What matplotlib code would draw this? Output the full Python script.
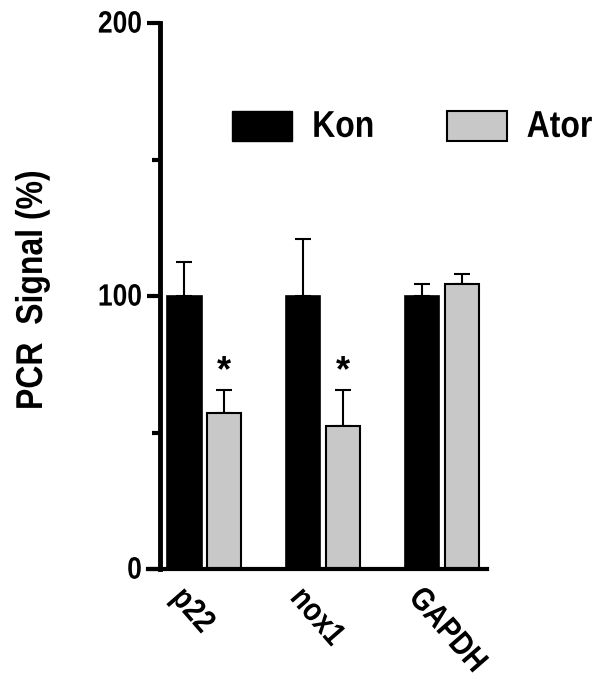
import matplotlib
matplotlib.use("Agg")
import matplotlib.pyplot as plt
import numpy as np
from matplotlib.patches import Patch
from matplotlib.transforms import ScaledTranslation, Affine2D
from matplotlib.patheffects import AbstractPathEffect

categories = ["p22", "nox1", "GAPDH"]
kon_vals = [100, 100, 100]
kon_err = [12.5, 21, 4.5]
ator_vals = [57, 52.5, 104.5]
ator_err = [8.5, 13, 3.5]
ator_sig = ["*", "*", ""]
series_names = ["Kon", "Ator"]
yticks = [0, 100, 200]

fam = "Liberation Sans"


class Stretch(AbstractPathEffect):
    """Draw glyphs taller (condensed look), scaling in the text's own frame."""
    def __init__(self, sy=1.17):
        super().__init__()
        self.sy = sy

    def draw_path(self, renderer, gc, tpath, affine, rgbFace=None):
        renderer.draw_path(gc, tpath, Affine2D().scale(1, self.sy) + affine, rgbFace)


st = [Stretch(1.17)]

fig = plt.figure(figsize=(6.01, 7.00), dpi=100)
ax = fig.add_axes([0.266, 0.187, 0.544, 0.780])

x = np.arange(len(categories))
w = 0.29
off = 0.168
ax.bar(x - off, kon_vals, w, color="black", edgecolor="black", linewidth=1.2, zorder=2)
ax.bar(x + off, ator_vals, w, color="#c8c8c8", edgecolor="black", linewidth=1.5, zorder=2)
ax.errorbar(x - off, kon_vals, yerr=[np.zeros(3), kon_err], fmt="none", ecolor="black",
            elinewidth=1.5, capsize=5.8, capthick=1.5, zorder=1)
ax.errorbar(x + off, ator_vals, yerr=[np.zeros(3), ator_err], fmt="none", ecolor="black",
            elinewidth=1.5, capsize=5.8, capthick=1.5, zorder=1)
for xi, v, e, s in zip(x, ator_vals, ator_err, ator_sig):
    if s:
        ax.text(xi + off, v + e + 0.5, s, ha="center", va="bottom", fontsize=26,
                fontweight="bold", family=fam)

ax.set_xlim(-0.374, 2.378)
ax.set_ylim(0, 200)
ax.set_yticks(yticks)
ax.set_yticks([50, 150], minor=True)
ax.set_xticks(x)
ax.tick_params(axis="x", length=0, pad=0)
ax.tick_params(axis="y", which="major", length=9.5, width=3, pad=3.5)
ax.tick_params(axis="y", which="minor", length=6, width=3)
ax.set_yticklabels([str(t) for t in yticks], fontsize=19, fontweight="bold", family=fam)
ax.set_xticklabels(categories, rotation=-49, ha="left", va="top", rotation_mode="anchor",
                   fontsize=20, fontweight="bold", family=fam)
for lab in ax.get_yticklabels():
    lab.set_path_effects(st)
for lab in ax.get_xticklabels():
    lab.set_path_effects(st)
    lab.set_transform(lab.get_transform() + ScaledTranslation(-0.19, -0.16, fig.dpi_scale_trans))

for s in ["top", "right"]:
    ax.spines[s].set_visible(False)
ax.spines["left"].set_linewidth(3.5)
ax.spines["bottom"].set_linewidth(3)
ax.spines["bottom"].set_bounds(-0.374 - 0.1, 2.378)
ax.set_ylabel("PCR  Signal (%)", fontsize=23, fontweight="bold", family=fam, labelpad=0,
              path_effects=st)
ax.yaxis.set_label_coords(49 / 601, 1 - 290 / 700, transform=fig.transFigure)

handles = [Patch(facecolor="black", edgecolor="black"),
           Patch(facecolor="#c8c8c8", edgecolor="black", linewidth=1.5)]
leg = ax.legend(handles, series_names, loc="upper left",
                bbox_to_anchor=(232 / 601, 1 - 111 / 700),
                bbox_transform=fig.transFigure, ncol=2,
                frameon=False, handlelength=1.88, handleheight=1.07, handletextpad=0.63,
                columnspacing=2.26, borderaxespad=0, borderpad=0,
                prop={"family": fam, "weight": "bold", "size": 23})
for t in leg.get_texts():
    t.set_path_effects(st)

fig.savefig("out.png", dpi=100)
